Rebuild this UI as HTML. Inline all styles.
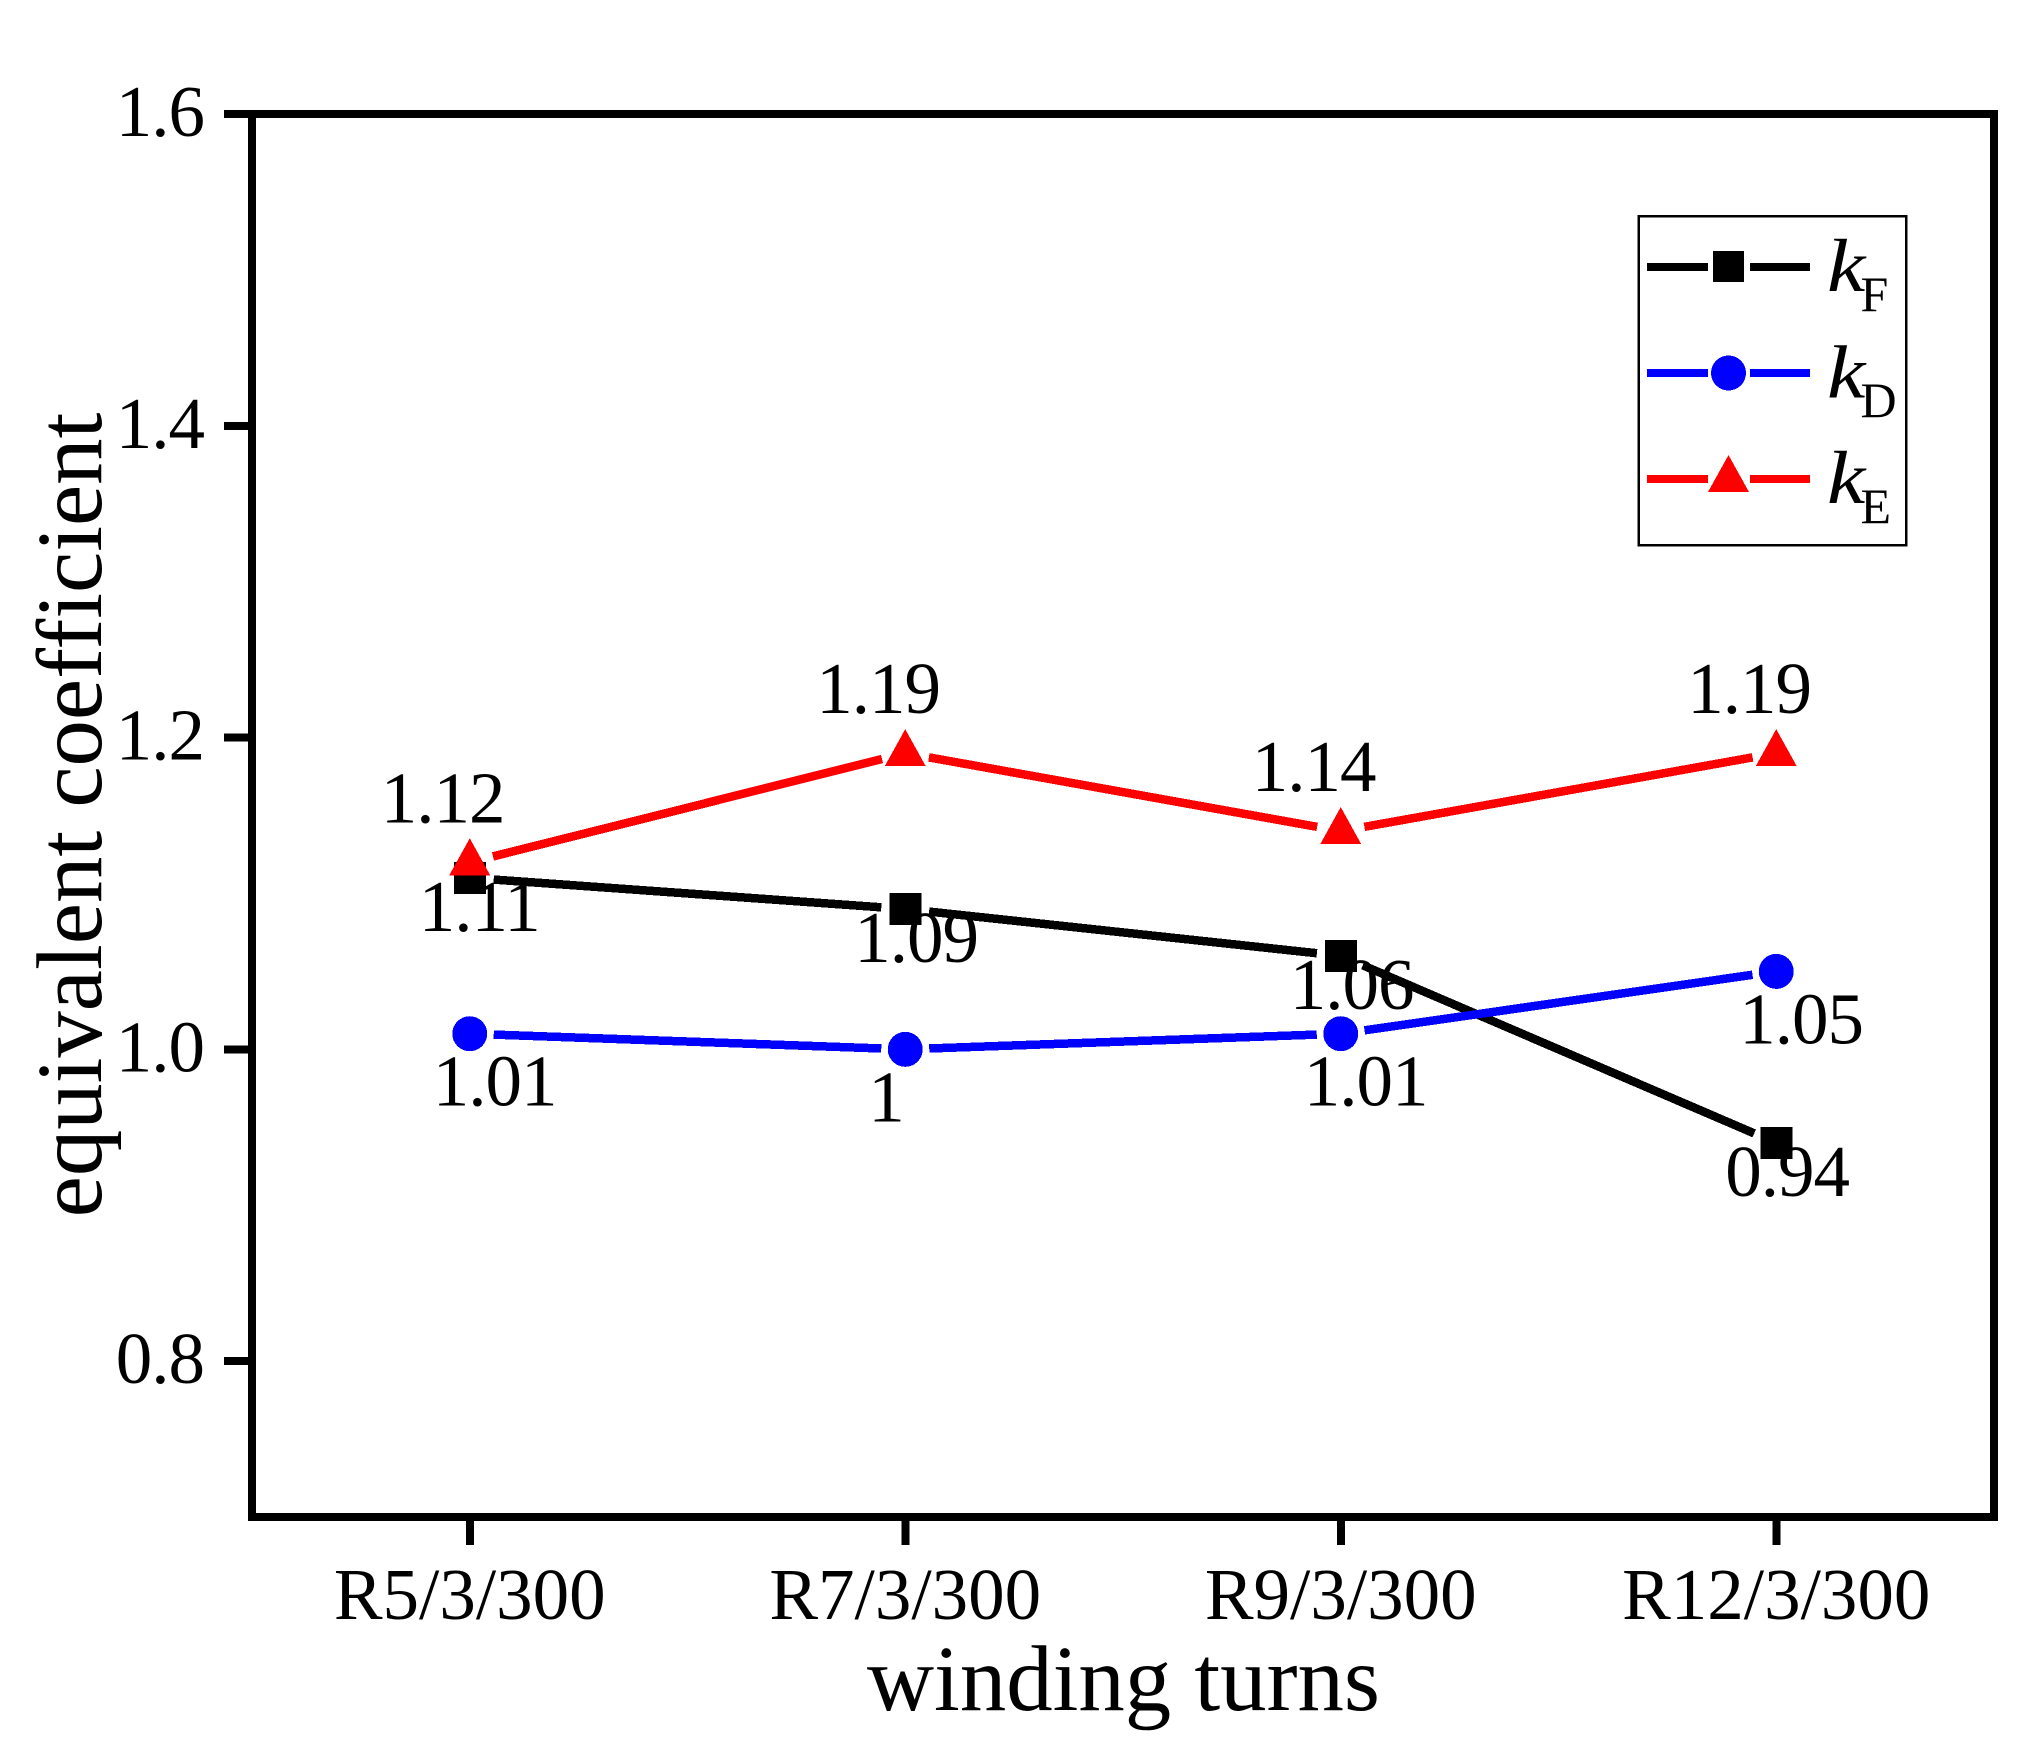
<!DOCTYPE html>
<html lang="en">
<head>
<meta charset="utf-8">
<title>Equivalent coefficient vs winding turns</title>
<style>
html,body{margin:0;padding:0;background:#fff;}
svg{display:block;}
text{font-family:"Liberation Serif","Times New Roman",serif;fill:#000;font-variant-ligatures:none;}
line,rect,circle,polygon{shape-rendering:crispEdges;}
</style>
</head>
<body>
<svg id="chart" xmlns="http://www.w3.org/2000/svg" width="2039" height="1750" viewBox="0 0 2039 1750">
  <rect x="0" y="0" width="2039" height="1750" fill="#fff"/>
  <g id="x-ticks"></g>
  <g id="y-ticks"></g>
  <g id="series-layer"></g>
  <g id="label-layer"></g>
  <rect x="252" y="114" width="1742" height="1403" fill="none" stroke="#000" stroke-width="8"/>
  <text x="1123.5" y="1710" font-size="92.8" text-anchor="middle">winding turns</text>
  <text x="0" y="0" font-size="92.8" text-anchor="middle" transform="translate(101 815) rotate(-90)">equivalent coefficient</text>
  <g>
    <rect x="1638.5" y="216" width="267.5" height="329" fill="#fff" stroke="#000" stroke-width="2.5"/>
    <g>
      <line x1="1647" y1="267" x2="1708" y2="267" stroke="#000" stroke-width="8"/>
      <line x1="1750" y1="267" x2="1810" y2="267" stroke="#000" stroke-width="8"/>
      <rect x="1713" y="251" width="31" height="31" fill="#000"/>
      <text font-size="75" font-style="italic" transform="translate(1827 291) scale(1.15 1)">k</text>
      <text x="1860.5" y="311" font-size="50">F</text>
    </g>
    <g>
      <line x1="1647" y1="373" x2="1708" y2="373" stroke="#00f" stroke-width="8"/>
      <line x1="1750" y1="373" x2="1810" y2="373" stroke="#00f" stroke-width="8"/>
      <circle cx="1728.5" cy="373" r="17.5" fill="#00f"/>
      <text font-size="75" font-style="italic" transform="translate(1827 397.5) scale(1.15 1)">k</text>
      <text x="1860.5" y="417" font-size="50">D</text>
    </g>
    <g>
      <line x1="1647" y1="479" x2="1708" y2="479" stroke="#f00" stroke-width="8"/>
      <line x1="1750" y1="479" x2="1810" y2="479" stroke="#f00" stroke-width="8"/>
      <polygon points="1728.5,455 1749,492 1708,492" fill="#f00"/>
      <text font-size="75" font-style="italic" transform="translate(1827 503) scale(1.15 1)">k</text>
      <text x="1860.5" y="523" font-size="50">E</text>
    </g>
  </g>
</svg>
<script>
const categories = ["R5/3/300", "R7/3/300", "R9/3/300", "R12/3/300"];
const yTickValues = [0.8, 1.0, 1.2, 1.4, 1.6];
const kF = [1.11, 1.09, 1.06, 0.94];
const kD = [1.01, 1.00, 1.01, 1.05];
const kE = [1.12, 1.19, 1.14, 1.19];

const SVG_NS = 'http://www.w3.org/2000/svg';
const plot = {left: 252, right: 1994, top: 114, bottom: 1517, yMin: 0.7, yMax: 1.6};
const GAP = 24;

function xScale(i) {
  const step = (plot.right - plot.left) / categories.length;
  return plot.left + step * (i + 0.5);
}
function yScale(v) {
  return plot.bottom - (v - plot.yMin) / (plot.yMax - plot.yMin) * (plot.bottom - plot.top);
}
function make(tag, attrs, parent) {
  const el = document.createElementNS(SVG_NS, tag);
  for (const k in attrs) el.setAttribute(k, attrs[k]);
  parent.appendChild(el);
  return el;
}

const xTicksLayer = document.getElementById('x-ticks');
const yTicksLayer = document.getElementById('y-ticks');
const seriesLayer = document.getElementById('series-layer');
const labelLayer = document.getElementById('label-layer');

categories.forEach(function (c, i) {
  const x = xScale(i);
  const tick = make('line', {x1: x, x2: x, y1: plot.bottom, y2: plot.bottom + 28, stroke: '#000', 'stroke-width': 8}, xTicksLayer);
  
  
  const t = make('text', {x: x, y: 1619, 'font-size': 73, 'text-anchor': 'middle'}, xTicksLayer);
  t.textContent = c;
  
  
});

yTickValues.forEach(function (v) {
  const y = yScale(v);
  const tick = make('line', {x1: plot.left - 28, x2: plot.left, y1: y, y2: y, stroke: '#000', 'stroke-width': 8}, yTicksLayer);
  
  
  const t = make('text', {x: 204, y: y + 22, 'font-size': 73, 'letter-spacing': '-1px', 'text-anchor': 'end'}, yTicksLayer);
  t.textContent = v.toFixed(1);
  
  
});

function drawSeries(values, color, markerKind, seriesName, labelDx, labelDy) {
  const g = make('g', {}, seriesLayer);
  
  
  for (let i = 0; i < values.length - 1; i++) {
    const x1 = xScale(i), y1 = yScale(values[i]);
    const x2 = xScale(i + 1), y2 = yScale(values[i + 1]);
    const len = Math.hypot(x2 - x1, y2 - y1);
    const ux = (x2 - x1) / len, uy = (y2 - y1) / len;
    const seg = make('line', {
      x1: x1 + ux * GAP, y1: y1 + uy * GAP,
      x2: x2 - ux * GAP, y2: y2 - uy * GAP,
      stroke: color, 'stroke-width': 8.5
    }, g);
    
    
  }
  values.forEach(function (v, i) {
    const x = xScale(i), y = yScale(v);
    let m;
    if (markerKind === 'square') {
      m = make('rect', {x: x - 16, y: y - 16, width: 32, height: 32, fill: color}, g);
    } else if (markerKind === 'circle') {
      m = make('circle', {cx: x, cy: y, r: 17.5, fill: color}, g);
    } else {
      m = make('polygon', {points: x + ',' + (y - 24) + ' ' + (x + 20.5) + ',' + (y + 13) + ' ' + (x - 20.5) + ',' + (y + 13), fill: color}, g);
    }
    
    
    const t = make('text', {x: x + labelDx, y: y + labelDy, 'font-size': 73, 'letter-spacing': '-1px'}, labelLayer);
    t.textContent = String(v);
    
    
  });
}

drawSeries(kF, '#000', 'square', 'kf', -51, 53);
drawSeries(kD, '#00f', 'circle', 'kd', -37, 72);
drawSeries(kE, '#f00', 'triangle', 'ke', -89, -40);
</script>
</body>
</html>
